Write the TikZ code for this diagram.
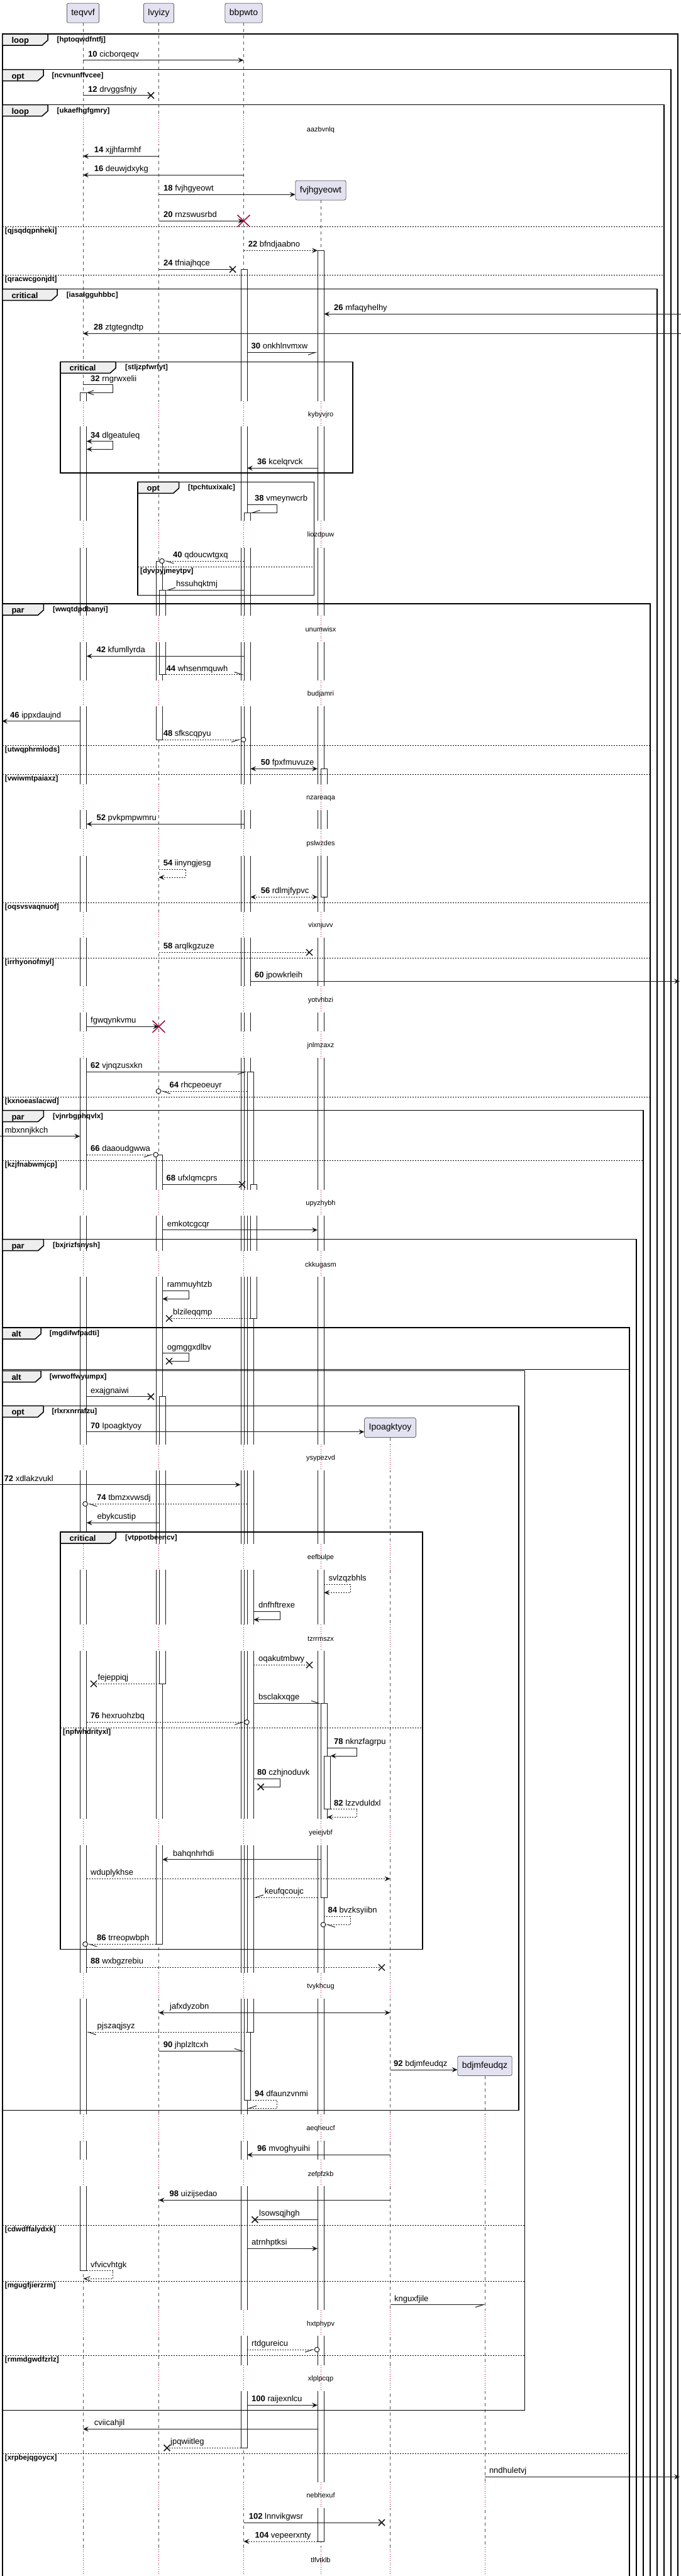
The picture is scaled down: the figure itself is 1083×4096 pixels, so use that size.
\documentclass[tikz,border=0pt]{standalone}
\usepackage{fontspec}
\setmainfont{Liberation Sans}
\usetikzlibrary{arrows.meta}
\definecolor{ink}{HTML}{181818}
\definecolor{crim}{HTML}{A80036}
\definecolor{boxbg}{HTML}{E2E2F0}
\definecolor{tabbg}{HTML}{EEEEEE}
\newcommand\ML[3]{\node[lbl] at (#1,#2-5.7) {#3};}
\newcommand\Xm[2]{\draw[ink,line width=1.5pt] (#1-5,#2-5) -- (#1+5,#2+5) (#1-5,#2+5) -- (#1+5,#2-5);}
\newcommand\RX[2]{\draw[crim,line width=1.5pt] (#1-10,#2-9.5) -- (#1+10,#2+9.5) (#1-10,#2+9.5) -- (#1+10,#2-9.5);}
\newcommand\Circ[2]{\draw[ink,line width=1pt,fill=white] (#1,#2) circle[radius=3.8];}
\newcommand\grp[8]{%
  \draw[frm] (#1,#2) rectangle (#3,#4);
  \filldraw[tabst] (#1,#2) -- (#5,#2) -- (#5,#2+10) -- (#5-9,#2+18) -- (#1,#2+18) -- cycle;
  \node[kw] at (#1+14.5,#2+14.5) {#6};
  \node[cond] at (#8,#2+12.6) {[#7]};}
\newcommand\sepl[4]{\draw[sepst] (#1,#3) -- (#2,#3); \node[cond] at (#1+4,#3+10) {[#4]};}
\newcommand\actbar[3]{\draw[barst] (#1,#2) rectangle (#1+10.3,#3);}
\begin{document}
\begin{tikzpicture}[x=1pt,y=-1pt,
  part/.style={draw=ink,fill=boxbg,line width=0.5pt,rounded corners=2.5pt,minimum height=31pt,inner xsep=7pt,font=\fontsize{14}{16}\selectfont},
  life/.style={draw=ink!75,line width=0.5pt,dash pattern=on 5pt off 5pt},
  dl/.style={draw=crim,line width=0.8pt,dash pattern=on 1pt off 2.5pt},
  barst/.style={draw=ink,fill=white,line width=0.8pt},
  lbl/.style={anchor=base west,inner sep=0pt,font=\fontsize{13}{15}\selectfont},
  dly/.style={anchor=base,inner sep=0pt,font=\fontsize{11}{13}\selectfont},
  cond/.style={anchor=base west,inner sep=0pt,font=\bfseries\fontsize{11.5}{13}\selectfont},
  kw/.style={anchor=base west,inner sep=0pt,font=\bfseries\fontsize{13}{15}\selectfont},
  frm/.style={draw=black,line width=1.5pt},
  tabst/.style={draw=black,fill=tabbg,line width=1.5pt,line join=round},
  sepst/.style={draw=black,line width=1pt,dash pattern=on 2pt off 2pt},
  m/.style={draw=ink,line width=1pt},
  r/.style={draw=ink,line width=1pt,dash pattern=on 2pt off 2pt},
  fa/.style={-{Stealth[length=9pt,width=8pt,inset=3.5pt]}},
  fab/.style={{Stealth[length=9pt,width=8pt,inset=3.5pt]}-{Stealth[length=9pt,width=8pt,inset=3.5pt]}},
  oa/.style={-{Straight Barb[length=10pt,width=7pt]}},
  hp/.style={-{Straight Barb[harpoon,length=12pt,width=8pt]}},
  hps/.style={-{Straight Barb[harpoon,swap,length=12pt,width=8pt]}}]
\clip (0,0) rectangle (1083,4096);
\fill[white] (0,0) rectangle (1083,4096);
% participants
\node[part] (teqvvf) at (132,20.7) {teqvvf};
\node[part] (lvyizy) at (252.5,20.7) {lvyizy};
\node[part] (bbpwto) at (387.5,20.7) {bbpwto};
\node[part] (fvj) at (510,302.5) {fvjhgyeowt};
\node[part] (ipo) at (620.5,2270) {Ipoagktyoy};
\node[part] (bdj) at (771,3284.8) {bdjmfeudqz};
\draw[life] (teqvvf.south) -- (132,4096);
\draw[life] (lvyizy.south) -- (252.5,4096);
\draw[life] (bbpwto.south) -- (387.5,4096);
\draw[life] (fvj.south) -- (510,4096);
\draw[life] (ipo.south) -- (620.5,4096);
\draw[life] (bdj.south) -- (771,4096);
% activation bars
\actbar{127.3}{624.3}{3610.7}
\actbar{248}{892}{1176}
\actbar{253.5}{938.3}{1072.7}
\actbar{248}{1836}{3091.3}
\actbar{253.5}{2220.7}{2677.3}
\actbar{383}{428.3}{3892.3}
\actbar{388}{815.3}{3339.3}
\actbar{393}{1704.3}{3231.3}
\actbar{398.3}{1883.3}{2096.3}
\actbar{505}{398.3}{4041}
\actbar{510}{1222.3}{1426.3}
\actbar{510}{2708.3}{3017}
\actbar{515.3}{2792}{2876.7}
% delays
\foreach \ya/\yb/\yc/\tx in {183/230/206.3/aazbvnlq,637.7/678.3/659.3/kybyvjro,828.3/870.7/850.3/liozdpuw,979.3/1020.7/1001/unumwisx,1081.7/1123.3/1103.3/budjamri,1246.7/1288.3/1268.3/nzareaqa,1318.3/1360.7/1340.7/pslwzdes,1450/1491/1471.3/vixnjuvv,1568.3/1610/1590/yotvhbzi,1640/1682.3/1662.3/jnlmzaxz,1891.7/1933.3/1913.3/upyzhybh,1988.7/2030/2010.7/ckkugasm,2296.7/2338.3/2318.3/ysypezvd,2454.7/2496/2476.3/eefbulpe,2583.3/2625/2605.7/tzrrmszx,2892.3/2934.3/2914.3/yeiejvbf,3136.7/3178.3/3158.3/tvykhcug,3361.7/3404/3384/aeqheucf,3434.3/3476/3456.7/zefpfzkb,3672.7/3714/3694.7/hxtphypv,3760.7/3801.7/3782.3/xlplpcqp,3946.7/3988.3/3968.3/nebhexuf,4050/4100/4071/tlfvtklb}{
  \foreach \lx/\ls in {132/0,252.5/0,387.5/0,510/318,620.5/2286,771/3300}{
    \ifdim\ls pt<\ya pt\relax
      \fill[white] (\lx-7,\ya) rectangle (\lx+23,\yb);
      \draw[dl] (\lx,\ya) -- (\lx,\yb);
    \fi
  }
  \node[dly] at (510,\yc+3.5) {\tx};
}
% frames (nested)
\grp{3.8}{54}{1078}{4200}{76}{loop}{hptoqwdfntfj}{90.5}
\grp{3.8}{110.5}{1067}{4200}{69}{opt}{ncvnunffvcee}{82.4}
\grp{3.8}{166.5}{1056}{4200}{76}{loop}{ukaefhgfgmry}{90.5}
\sepl{3.8}{1056}{360.3}{qjsqdqpnheki}
\sepl{3.8}{1056}{437.3}{qracwcgonjdt}
\grp{3.8}{459.5}{1045}{4200}{91}{critical}{iasalgguhbbc}{105.7}
\grp{96}{575.3}{561}{752}{184}{critical}{stljzpfwrlyt}{199}
\grp{219}{766.3}{499.7}{946.7}{284.5}{opt}{tpchtuxixalc}{299}
\sepl{219}{499.7}{901}{dyvpyjmeytpv}
\grp{3.8}{960}{1034}{4200}{69.4}{par}{wwqtdpdbanyi}{84}
\sepl{3.8}{1034}{1185.3}{utwqphrmlods}
\sepl{3.8}{1034}{1231}{vwiwmtpaiaxz}
\sepl{3.8}{1034}{1435.3}{oqsvsvaqnuof}
\sepl{3.8}{1034}{1523.3}{irrhyonofmyl}
\sepl{3.8}{1034}{1744}{kxnoeaslacwd}
\grp{3.8}{1765.5}{1023}{4200}{69.4}{par}{vjnrbgphqvlx}{84}
\sepl{3.8}{1023}{1845.3}{kzjfnabwmjcp}
\grp{3.8}{1970.7}{1012}{4200}{69.4}{par}{bxjrizfsnysh}{84}
\grp{3.8}{2111}{1001}{4200}{65}{alt}{mgdifwfpadti}{78.6}
\draw[frm] (3.8,2177.7) -- (1001,2177.7);
\sepl{3.8}{1001}{3901.3}{xrpbejqgoycx}
\grp{3.8}{2179.7}{834.7}{3832.3}{65}{alt}{wrwoffwyumpx}{78.6}
\sepl{3.8}{834.7}{3538}{cdwdffalydxk}
\sepl{3.8}{834.7}{3627.3}{mgugfjierzrm}
\sepl{3.8}{834.7}{3745}{rmmdgwdfzrlz}
\grp{3.8}{2235.3}{825}{3355.3}{69}{opt}{rlxrxnrrafzu}{82.4}
\grp{96}{2436}{672}{3099.3}{184}{critical}{vtppotbeencv}{199}
\sepl{96}{672}{2747.3}{npfwhdrityxl}
% messages
\draw[m,fa] (132,95.7) -- (387.5,95.7); \ML{140}{95.7}{\textbf{10} cicborqeqv}
\draw[m] (132,151.7) -- (240,151.7); \Xm{240}{151.7} \ML{140}{151.7}{\textbf{12} drvggsfnjy}
\draw[m,fa] (252.5,248.3) -- (132,248.3); \ML{149.6}{248.3}{\textbf{14} xjjhfarmhf}
\draw[m,fa] (387.5,278.3) -- (132,278.3); \ML{149.6}{278.3}{\textbf{16} deuwjdxykg}
\draw[m,fa] (252.5,309.3) -- (fvj.west |- 0,309.3); \ML{260}{309.3}{\textbf{18} fvjhgyeowt}
\draw[m,fa] (252.5,351.3) -- (387.5,351.3); \RX{387.5}{351.3} \ML{260}{351.3}{\textbf{20} rnzswusrbd}
\draw[r,fa] (387.5,398.3) -- (505,398.3); \ML{394.6}{398.3}{\textbf{22} bfndjaabno}
\draw[m] (252.5,428.3) -- (370,428.3); \Xm{370}{428.3} \ML{260}{428.3}{\textbf{24} tfniajhqce}
\draw[m,fa] (1083,499.3) -- (515.3,499.3); \ML{531}{499.3}{\textbf{26} mfaqyhelhy}
\draw[m,fa] (1083,530.3) -- (132,530.3); \ML{149}{530.3}{\textbf{28} ztgtegndtp}
\draw[m,hps] (393,560.3) -- (505,560.3); \ML{399.5}{560.3}{\textbf{30} onkhlnvmxw}
\draw[m,oa] (132,611.7) -- (179.4,611.7) -- (179.4,624.3) -- (137.7,624.3); \ML{144}{611.7}{\textbf{32} rngrwxelii}
\draw[m,fab] (137.7,701.7) -- (179.4,701.7) -- (179.4,714.3) -- (137.7,714.3); \ML{144}{701.7}{\textbf{34} dlgeatuleq}
\draw[m,fa] (505,744.3) -- (393,744.3); \ML{409}{744.3}{\textbf{36} kcelqrvck}
\draw[m,hps] (393,802.3) -- (440.6,802.3) -- (440.6,815.3) -- (398.3,815.3); \ML{405}{802.3}{\textbf{38} vmeynwcrb}
\draw[r,hp] (388,892) -- (261.3,892); \Circ{257.5}{892} \ML{275}{892}{\textbf{40} qdoucwtgxq}
\draw[m,hps] (388,938.3) -- (264,938.3); \ML{280}{938.3}{hssuhqktmj}
\draw[m,fa] (388,1043.3) -- (137.7,1043.3); \ML{153.4}{1043.3}{\textbf{42} kfumllyrda}
\draw[r,hp] (264,1072.7) -- (388,1072.7); \ML{264.5}{1072.7}{\textbf{44} whsenmquwh}
\draw[m,fa] (127.3,1146.7) -- (3,1146.7); \ML{16}{1146.7}{\textbf{46} ippxdaujnd}
\draw[r,hps] (258.3,1176) -- (383.2,1176); \Circ{387}{1176} \ML{259.6}{1176}{\textbf{48} sfkscqpyu}
\draw[m,fab] (398.3,1222.3) -- (505,1222.3); \ML{414.6}{1222.3}{\textbf{50} fpxfmuvuze}
\draw[m,fa] (388,1310.3) -- (137.7,1310.3); \ML{153.4}{1310.3}{\textbf{52} pvkpmpwmru}
\draw[r,fa] (252.5,1382.3) -- (295.4,1382.3) -- (295.4,1395) -- (252.5,1395); \ML{259.6}{1382.3}{\textbf{54} iinyngjesg}
\draw[r,fab] (398.3,1426.3) -- (505,1426.3); \ML{414.6}{1426.3}{\textbf{56} rdlmjfypvc}
\draw[r] (252.5,1514.3) -- (492,1514.3); \Xm{492}{1514.3} \ML{259.6}{1514.3}{\textbf{58} arqlkgzuze}
\draw[m,fa] (398.3,1560.3) -- (1081,1560.3); \ML{405}{1560.3}{\textbf{60} jpowkrleih}
\draw[m,fa] (137.7,1632.3) -- (252.5,1632.3); \RX{252.5}{1632.3} \ML{144}{1632.3}{fgwqynkvmu}
\draw[m,hps] (137.7,1704.3) -- (393,1704.3); \ML{144}{1704.3}{\textbf{62} vjnqzusxkn}
\draw[r,hp] (393,1735) -- (255.8,1735); \Circ{252}{1735} \ML{269.4}{1735}{\textbf{64} rhcpeoeuyr}
\draw[m,fa] (0,1806.7) -- (127.3,1806.7); \ML{7.6}{1806.7}{mbxnnjkkch}
\draw[r,hps] (137.7,1836) -- (243.9,1836); \Circ{247.7}{1836} \ML{144}{1836}{\textbf{66} daaoudgwwa}
\draw[m] (258.3,1883.3) -- (385,1883.3); \Xm{385}{1883.3} \ML{264.5}{1883.3}{\textbf{68} ufxlqmcprs}
\draw[m,fa] (258.3,1955.7) -- (505,1955.7); \ML{265.6}{1955.7}{emkotcgcqr}
\draw[m,fa] (258.3,2052.3) -- (300.3,2052.3) -- (300.3,2065.3) -- (258.3,2065.3); \ML{265.6}{2052.3}{rammuyhtzb}
\draw[r] (398.3,2096.3) -- (269,2096.3); \Xm{269}{2096.3} \ML{275}{2096.3}{blzileqqmp}
\draw[m] (258.3,2151.7) -- (300.3,2151.7) -- (300.3,2164.3) -- (269,2164.3); \Xm{269}{2164.3} \ML{265.6}{2151.7}{ogmggxdlbv}
\draw[m] (137.7,2220.7) -- (240,2220.7); \Xm{240}{2220.7} \ML{144}{2220.7}{exajgnaiwi}
\draw[m,fa] (137.7,2276.7) -- (ipo.west |- 0,2276.7); \ML{144}{2276.7}{\textbf{70} Ipoagktyoy}
\draw[m,fa] (0,2360.7) -- (382.6,2360.7); \ML{6.5}{2360.7}{\textbf{72} xdlakzvukl}
\draw[r,hp] (393,2391.3) -- (139.3,2391.3); \Circ{135.5}{2391.3} \ML{154}{2391.3}{\textbf{74} tbmzxvwsdj}
\draw[m,fa] (253.5,2421.3) -- (137.7,2421.3); \ML{154.5}{2421.3}{ebykcustip}
\draw[r,fa] (515.3,2519.3) -- (557,2519.3) -- (557,2532.3) -- (515.3,2532.3); \ML{522.5}{2519.3}{svlzqzbhls}
\draw[m,fa] (403.3,2562.3) -- (445.5,2562.3) -- (445.5,2575.3) -- (403.3,2575.3); \ML{411}{2562.3}{dnfhftrexe}
\draw[r] (403.3,2647.3) -- (492,2647.3); \Xm{492}{2647.3} \ML{411}{2647.3}{oqakutmbwy}
\draw[r] (253.5,2677.3) -- (149,2677.3); \Xm{149}{2677.3} \ML{155.5}{2677.3}{fejeppiqj}
\draw[m,hp] (403.3,2708.3) -- (510,2708.3); \ML{411}{2708.3}{bsclakxqge}
\draw[r,hps] (137.7,2738.3) -- (388.6,2738.3); \Circ{392.4}{2738.3} \ML{143.6}{2738.3}{\textbf{76} hexruohzbq}
\draw[m,fa] (520.3,2779.3) -- (567.5,2779.3) -- (567.5,2792) -- (525.6,2792); \ML{531}{2779.3}{\textbf{78} nknzfagrpu}
\draw[m] (403.3,2828.3) -- (445.5,2828.3) -- (445.5,2841.3) -- (414.6,2841.3); \Xm{414.6}{2841.3} \ML{409}{2828.3}{\textbf{80} czhjnoduvk}
\draw[r,fa] (525.6,2876.7) -- (567.5,2876.7) -- (567.5,2889.3) -- (520.3,2889.3); \ML{531}{2876.7}{\textbf{82} lzzvduldxl}
\draw[m,fa] (510,2956.7) -- (258.3,2956.7); \ML{275}{2956.7}{bahqnhrhdi}
\draw[r,fa] (137.7,2987.3) -- (620.5,2987.3); \ML{144}{2987.3}{wduplykhse}
\draw[r,hps] (505,3017) -- (403.8,3017); \ML{420.6}{3017}{keufqcoujc}
\draw[r,hp] (515.3,3047.3) -- (557,3047.3) -- (557,3060.3) -- (517.8,3060.3); \Circ{514}{3060.3} \ML{521.4}{3047.3}{\textbf{84} bvzksyiibn}
\draw[r,hp] (248,3091.3) -- (139.3,3091.3); \Circ{135.5}{3091.3} \ML{154}{3091.3}{\textbf{86} trreopwbph}
\draw[r] (137.7,3128.3) -- (607,3128.3); \Xm{607}{3128.3} \ML{144}{3128.3}{\textbf{88} wxbgzrebiu}
\draw[m,fab] (252.5,3200.3) -- (620.5,3200.3); \ML{270}{3200.3}{jafxdyzobn}
\draw[r,hp] (393,3231.3) -- (137.7,3231.3); \ML{154.5}{3231.3}{pjszaqjsyz}
\draw[m,hp] (252.5,3261.3) -- (388,3261.3); \ML{259.6}{3261.3}{\textbf{90} jhplzltcxh}
\draw[m,fa] (620.5,3291) -- (bdj.west |- 0,3291); \ML{626}{3291}{\textbf{92} bdjmfeudqz}
\draw[r,hps] (398.3,3339.3) -- (440.6,3339.3) -- (440.6,3352.3) -- (393,3352.3); \ML{405}{3339.3}{\textbf{94} dfaunzvnmi}
\draw[m,fa] (620.5,3426.3) -- (393,3426.3); \ML{409}{3426.3}{\textbf{96} mvoghyuihi}
\draw[m,fa] (620.5,3498.3) -- (252.5,3498.3); \ML{269.4}{3498.3}{\textbf{98} uizijsedao}
\draw[m] (505,3529.3) -- (405.4,3529.3); \Xm{405.4}{3529.3} \ML{412}{3529.3}{lsowsqjhgh}
\draw[m,fa] (393,3575.3) -- (505,3575.3); \ML{400}{3575.3}{atrnhptksi}
\draw[r,oa] (137.7,3610.7) -- (179.4,3610.7) -- (179.4,3623.3) -- (132,3623.3); \ML{144}{3610.7}{vfvicvhtgk}
\draw[m,hps] (620.5,3664.7) -- (771,3664.7); \ML{627}{3664.7}{knguxfjile}
\draw[r,hps] (393,3736) -- (500.2,3736); \Circ{504}{3736} \ML{400}{3736}{rtdgureicu}
\draw[m,fa] (393,3824.3) -- (505,3824.3); \ML{400}{3824.3}{\textbf{100} raijexnlcu}
\draw[m,fa] (505,3862.3) -- (132,3862.3); \ML{149.6}{3862.3}{cviicahjil}
\draw[r] (383,3892.3) -- (265.6,3892.3); \Xm{265.6}{3892.3} \ML{271}{3892.3}{jpqwiitleg}
\draw[m,fa] (771,3938.3) -- (1081,3938.3); \ML{777.8}{3938.3}{nndhuletvj}
\draw[m] (387.5,4011) -- (607,4011); \Xm{607}{4011} \ML{395.7}{4011}{\textbf{102} lnnvikgwsr}
\draw[r,fa] (505,4041) -- (387.5,4041); \ML{405.4}{4041}{\textbf{104} vepeerxnty}
\end{tikzpicture}
\end{document}
